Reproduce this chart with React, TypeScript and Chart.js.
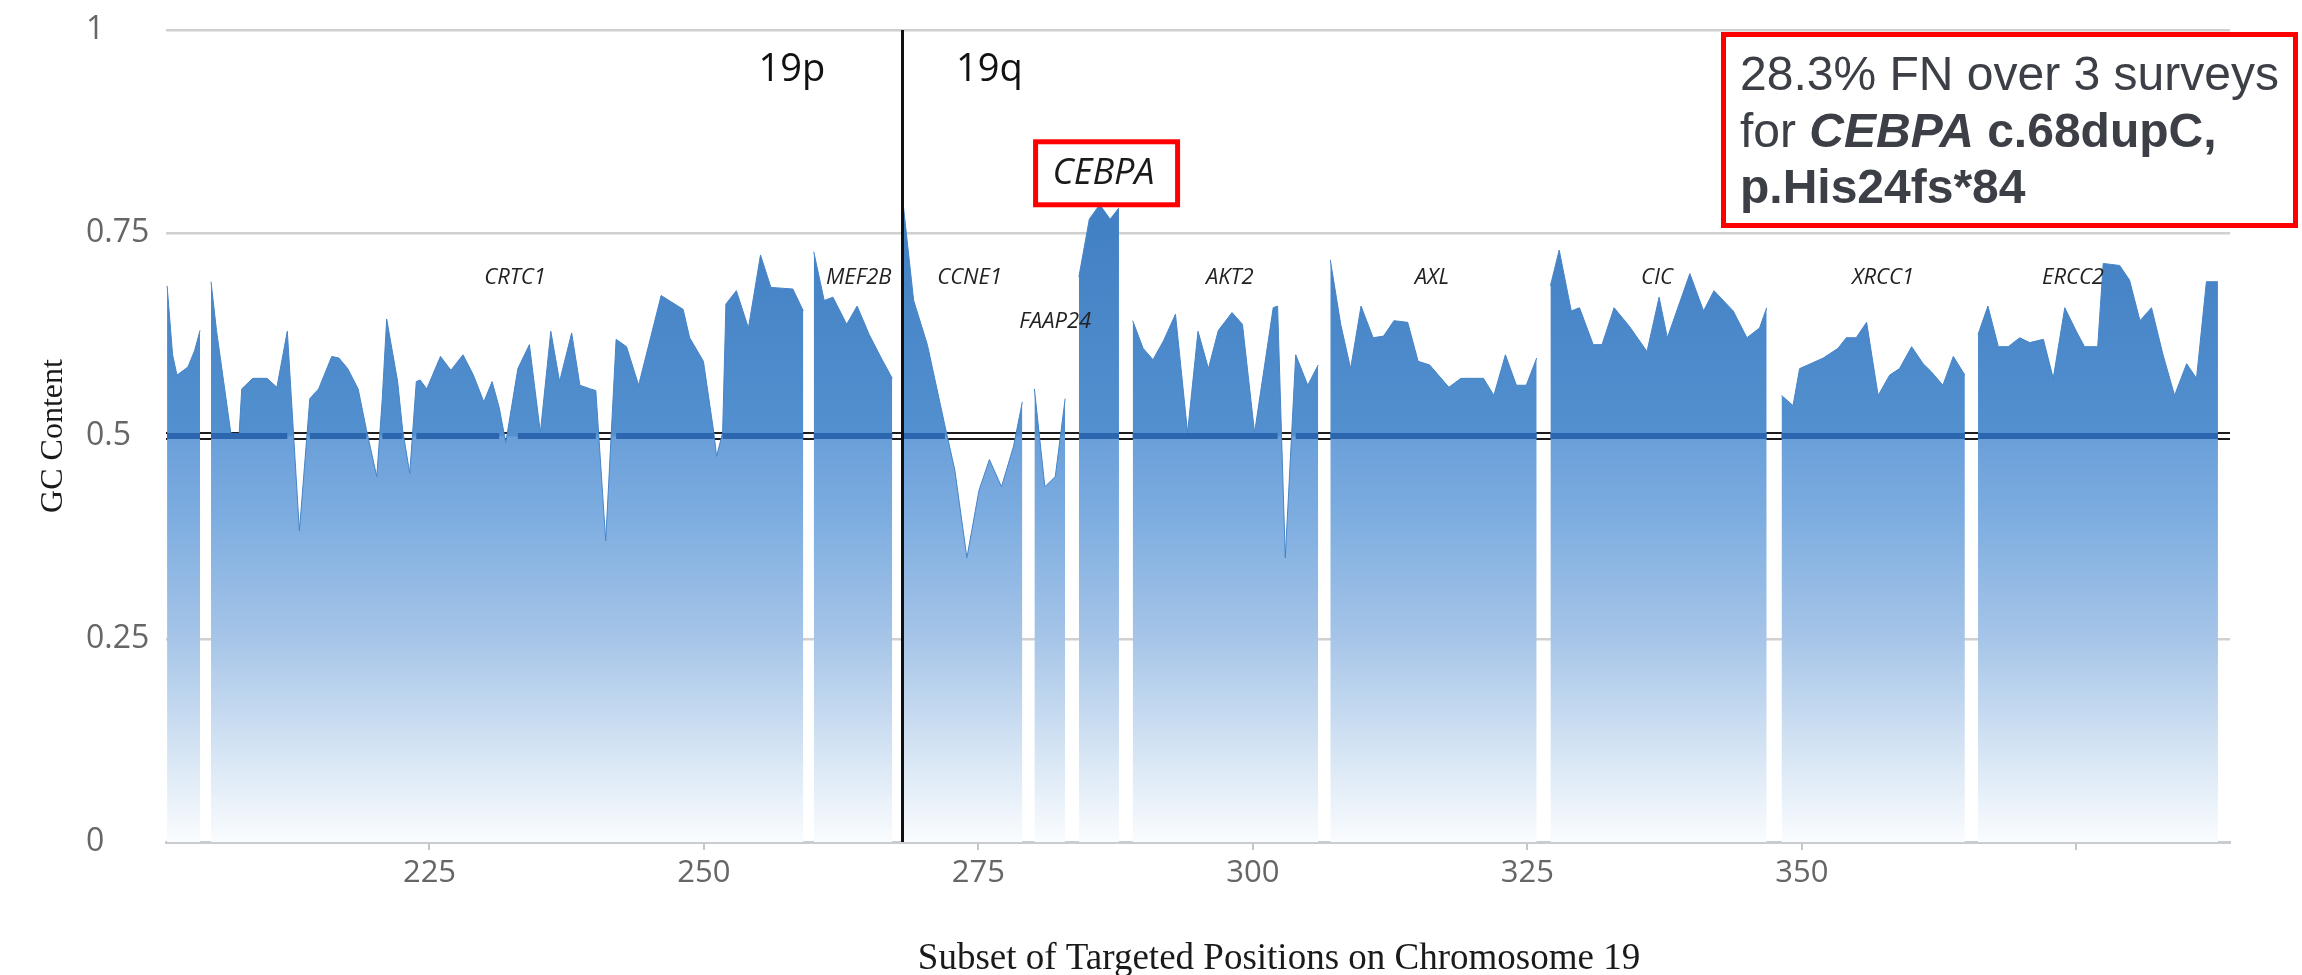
import React, { useEffect, useRef } from 'react';
import { Chart, registerables } from 'chart.js';

Chart.register(...registerables);

// ---- data ---------------------------------------------------------------
// Targeted positions (x) and GC content (y); null marks a break between targets.
const POSITIONS: number[] = [
  201.1, 201.6, 202.0, 203.0, 203.6, 204.1, 204.6,
  205.1, 205.6, 206.25, 206.9, 207.65, 207.9, 208.9, 210.2, 211.1, 212.05, 213.15, 214.1, 214.9,
  216.1, 216.75, 217.55, 218.5, 219.25, 220.2, 220.7, 221.1, 222.1, 222.55, 223.2, 223.8, 224.15,
  224.75, 226.0, 226.95, 228.05, 229.0, 229.95, 230.7, 231.35, 231.95, 233.05, 234.1, 235.1, 236.05,
  236.85, 237.95, 238.7, 239.65, 240.15, 241.05, 242.0, 242.95, 244.05, 246.1, 248.1, 248.7, 249.95,
  250.9, 251.15, 251.7, 252.0, 252.95, 254.05, 255.15, 256.1, 258.1, 259.05, 259.5,
  260.0, 260.95, 261.75, 263.0, 263.95, 265.05, 266.15, 267.15, 267.6,
  268.0, 269.1, 270.35, 271.95, 272.85, 273.95, 275.05, 276.0, 277.1, 278.2, 279.0, 279.5,
  280.1, 281.05, 282.0, 282.9, 283.6,
  284.15, 285.1, 286.05, 287.0, 287.8, 288.4,
  289.05, 290.0, 290.9, 291.85, 292.95, 294.05, 295.0, 295.95, 296.85, 298.1, 299.05, 300.15,
  301.85, 302.25, 302.95, 303.9, 305.0, 305.95, 306.5,
  307.05, 308.0, 308.9, 309.85, 310.95, 311.9, 312.85, 314.1, 315.05, 316.1, 317.85, 318.95,
  321.0, 321.95, 323.0, 324.0, 324.9, 325.85, 326.5,
  327.1, 327.9, 329.0, 329.75, 331.0, 331.8, 332.9, 334.3, 335.9, 337.0, 337.75, 339.8, 341.05,
  342.0, 343.75, 345.0, 346.15, 346.8, 347.4,
  348.15, 349.2, 349.8, 350.55, 351.95, 353.3, 354.05, 354.95, 355.9, 356.95, 358.0, 358.9,
  360.0, 361.05, 361.8, 362.85, 363.8, 364.85, 365.4,
  366.05, 366.95, 367.9, 368.8, 369.85, 370.75, 372.0, 372.9, 373.95, 375.0, 375.75, 376.95,
  377.45, 378.95, 379.85, 380.8, 381.85, 382.9, 383.95, 385.05, 385.95, 386.85, 387.9,
];

const GC_CONTENT: (number | null)[] = [
  0.685, 0.6, 0.575, 0.585, 0.605, 0.63, null,
  0.69, 0.63, 0.567, 0.504, 0.5, 0.558, 0.571, 0.571, 0.56, 0.629, 0.383, 0.546, 0.558,
  0.598, 0.596, 0.583, 0.558, 0.508, 0.45, 0.546, 0.644, 0.567, 0.508, 0.454, 0.567, 0.569,
  0.558, 0.598, 0.581, 0.6, 0.575, 0.542, 0.567, 0.535, 0.492, 0.583, 0.6125, 0.504, 0.629,
  0.567, 0.627, 0.5625, 0.558, 0.556, 0.371, 0.619, 0.61, 0.5625, 0.673, 0.656, 0.621, 0.592,
  0.504, 0.475, 0.504, 0.6625, 0.679, 0.633, 0.723, 0.683, 0.681, 0.654, null,
  0.727, 0.667, 0.671, 0.6375, 0.66, 0.625, 0.596, 0.571, null,
  0.804, 0.667, 0.6125, 0.5125, 0.458, 0.35, 0.433, 0.471, 0.4375, 0.4875, 0.542, null,
  0.558, 0.4375, 0.45, 0.546, null,
  0.696, 0.767, 0.785, 0.767, 0.781, null,
  0.642, 0.608, 0.594, 0.617, 0.65, 0.504, 0.629, 0.583, 0.63, 0.652, 0.6375, 0.504,
  0.658, 0.66, 0.35, 0.6, 0.5625, 0.5875, null,
  0.717, 0.6375, 0.583, 0.66, 0.621, 0.623, 0.642, 0.64, 0.592, 0.5875, 0.56, 0.571,
  0.571, 0.55, 0.6, 0.5625, 0.5625, 0.596, null,
  0.685, 0.729, 0.654, 0.658, 0.6125, 0.6125, 0.658, 0.635, 0.604, 0.671, 0.621, 0.7, 0.654,
  0.679, 0.654, 0.621, 0.633, 0.658, null,
  0.55, 0.5375, 0.583, 0.5875, 0.596, 0.608, 0.621, 0.621, 0.64, 0.55, 0.575, 0.583,
  0.61, 0.589, 0.579, 0.5625, 0.598, 0.575, null,
  0.625, 0.66, 0.61, 0.61, 0.621, 0.615, 0.619, 0.571, 0.658, 0.629, 0.61, 0.61,
  0.7125, 0.71, 0.692, 0.642, 0.658, 0.6, 0.55, 0.589, 0.571, 0.69, 0.69,
];

const X_MIN = 201;
const X_MAX = 389;
const X_TICKS = [225, 250, 275, 300, 325, 350, 375];
const X_TICK_LABELS = ['225', '250', '275', '300', '325', '350', ''];
const Y_TICKS = [0, 0.25, 0.5, 0.75, 1];
const Y_TICK_LABELS = ['0', '0.25', '0.5', '0.75', '1'];

const THRESHOLD = 0.5;
const CENTROMERE = 268;

const GENES = ['CRTC1', 'MEF2B', 'CCNE1', 'FAAP24', 'AKT2', 'AXL', 'CIC', 'XRCC1', 'ERCC2'];
const GENE_POS = [232.8, 264.1, 274.2, 282.0, 297.9, 316.3, 336.8, 357.4, 374.7];
const GENE_GC = [0.697, 0.697, 0.697, 0.6425, 0.697, 0.697, 0.697, 0.697, 0.697];

const ARMS = ['19p', '19q'];
const ARM_POS = [258.0, 276.0];
const ARM_GC = [0.937, 0.937];

const HIGHLIGHT_GENE = 'CEBPA';
const HIGHLIGHT_POS = 286.4;
const HIGHLIGHT_GC = 0.81;

const NOTE_LINES: { text: string; style: string }[][] = [
  [{ text: '28.3% FN over 3 surveys', style: '' }],
  [
    { text: 'for ', style: '' },
    { text: 'CEBPA', style: 'italic bold ' },
    { text: ' c.68dupC,', style: 'bold ' },
  ],
  [{ text: 'p.His24fs*84', style: 'bold ' }],
];

const X_TITLE = 'Subset of Targeted Positions on Chromosome 19';
const Y_TITLE = 'GC Content';

// ---- styles -------------------------------------------------------------
const W = 2302;
const H = 975;
const FILL_STOPS: [number, string][] = [
  [0, '#3a78c0'],
  [0.25, '#4381c5'],
  [0.499, '#5390cf'],
  [0.502, '#6a9fd9'],
  [0.6, '#7dade0'],
  [0.75, '#a6c5e8'],
  [0.9, '#d9e7f5'],
  [1, '#fafcfe'],
];
const TICK_FONT = '"Open Sans", "DejaVu Sans", sans-serif';
const SERIF = '"Liberation Serif", "Times New Roman", serif';
const SANS = '"Liberation Sans", Arial, sans-serif';

const areaFill = (ctx: any) => {
  const chart = ctx.chart;
  const y = chart.scales && chart.scales.y;
  if (!chart.chartArea || !y) return '#5a93d0';
  const g = chart.ctx.createLinearGradient(0, y.getPixelForValue(1), 0, y.getPixelForValue(0));
  FILL_STOPS.forEach(([f, c]) => g.addColorStop(f, c));
  return g;
};

const decorPlugin = {
  id: 'decor',
  beforeDatasetsDraw(chart: any) {
    const { ctx, chartArea, scales } = chart;
    const y = scales.y.getPixelForValue(THRESHOLD);
    ctx.save();
    ctx.strokeStyle = '#1c1c1c';
    ctx.lineWidth = 2;
    [-3, 3].forEach((d) => {
      ctx.beginPath();
      ctx.moveTo(chartArea.left, y + d);
      ctx.lineTo(chartArea.right, y + d);
      ctx.stroke();
    });
    ctx.restore();
  },
  afterDraw(chart: any) {
    const { ctx, scales, chartArea } = chart;
    const xs = scales.x;
    const ys = scales.y;
    ctx.save();

    // centromere divider
    const cx = Math.round(xs.getPixelForValue(CENTROMERE)) + 0.5;
    ctx.strokeStyle = '#111';
    ctx.lineWidth = 3;
    ctx.beginPath();
    ctx.moveTo(cx, ys.getPixelForValue(1));
    ctx.lineTo(cx, ys.getPixelForValue(0));
    ctx.stroke();

    // gene labels
    ctx.fillStyle = '#222';
    ctx.textAlign = 'center';
    ctx.textBaseline = 'alphabetic';
    ctx.font = `italic 22px ${TICK_FONT}`;
    GENES.forEach((g, i) => {
      ctx.fillText(g, xs.getPixelForValue(GENE_POS[i]), ys.getPixelForValue(GENE_GC[i]) + 8);
    });

    // arm labels
    ctx.fillStyle = '#111';
    ctx.font = `38px ${TICK_FONT}`;
    ARMS.forEach((a, i) => {
      ctx.fillText(a, xs.getPixelForValue(ARM_POS[i]), ys.getPixelForValue(ARM_GC[i]));
    });

    // highlighted gene
    const hx = xs.getPixelForValue(HIGHLIGHT_POS);
    const hy = ys.getPixelForValue(HIGHLIGHT_GC);
    ctx.font = `italic 36px ${TICK_FONT}`;
    ctx.fillStyle = '#1a1a1a';
    ctx.fillText(HIGHLIGHT_GENE, hx, hy);
    ctx.strokeStyle = '#ff0000';
    ctx.lineWidth = 5;
    ctx.strokeRect(hx - 68, hy - 42.5, 142, 63);

    // note box
    ctx.strokeRect(1723.5, 34.5, 572, 191);
    ctx.fillStyle = '#3c4046';
    ctx.textAlign = 'left';
    const baselines = [90, 147, 203];
    NOTE_LINES.forEach((parts, li) => {
      let x = 1740;
      parts.forEach((p) => {
        ctx.font = `${p.style}48px ${SANS}`;
        ctx.fillText(p.text, x, baselines[li]);
        x += ctx.measureText(p.text).width;
      });
    });

    // axis titles
    ctx.fillStyle = '#1a1a1a';
    ctx.font = `37px ${SERIF}`;
    ctx.textAlign = 'center';
    ctx.fillText(X_TITLE, 1279, 969);

    ctx.save();
    ctx.translate(54, (chartArea.top + chartArea.bottom) / 2);
    ctx.rotate(-Math.PI / 2);
    ctx.font = `32px ${SERIF}`;
    ctx.textBaseline = 'middle';
    ctx.fillText(Y_TITLE, 0, 0);
    ctx.restore();

    ctx.restore();
  },
};

export default function App() {
  const ref = useRef<HTMLCanvasElement | null>(null);

  useEffect(() => {
    document.body.style.margin = '0';
    document.body.style.overflow = 'hidden';
    const canvas = ref.current;
    if (!canvas) return;

    const chart = new Chart(canvas, {
      type: 'line',
      data: {
        datasets: [
          {
            label: 'GC content',
            data: POSITIONS.map((x, i) => ({ x, y: GC_CONTENT[i] })) as any,
            fill: 'origin',
            backgroundColor: areaFill as any,
            borderColor: '#4683c6',
            borderWidth: 1,
            pointRadius: 0,
            tension: 0,
            spanGaps: false,
            order: 2,
          },
          {
            label: 'threshold',
            data: POSITIONS.map((x, i) => ({ x, y: GC_CONTENT[i] === null ? null : THRESHOLD })) as any,
            fill: false,
            borderColor: '#2c66ae',
            borderWidth: 6,
            pointRadius: 0,
            spanGaps: false,
            order: 1,
            segment: {
              borderColor: (c: any) => {
                const a = GC_CONTENT[c.p0DataIndex];
                const b = GC_CONTENT[c.p1DataIndex];
                return a !== null && b !== null && a >= THRESHOLD && b >= THRESHOLD
                  ? '#2c66ae'
                  : 'rgba(0,0,0,0)';
              },
            },
          },
        ],
      },
      options: {
        responsive: false,
        animation: false,
        layout: { padding: { left: 86, right: 72, top: 30, bottom: 0 } },
        plugins: {
          legend: { display: false },
          tooltip: { enabled: false },
        },
        scales: {
          x: {
            type: 'linear',
            min: X_MIN,
            max: X_MAX,
            z: 1,
            afterBuildTicks: (s: any) => {
              s.ticks = X_TICKS.map((v) => ({ value: v }));
            },
            afterFit: (s: any) => {
              s.height = 133;
            },
            ticks: {
              autoSkip: false,
              maxRotation: 0,
              padding: 5,
              color: '#666',
              font: { family: TICK_FONT, size: 31 },
              callback: (v: any) => X_TICK_LABELS[X_TICKS.indexOf(Number(v))] ?? '',
            },
            grid: {
              drawOnChartArea: false,
              drawTicks: true,
              tickLength: 8,
              color: '#c3c7cb',
              lineWidth: 2,
            },
            border: { display: true, color: '#c9cdd1', width: 3 },
          },
          y: {
            type: 'linear',
            min: 0,
            max: 1,
            z: 1,
            afterBuildTicks: (s: any) => {
              s.ticks = Y_TICKS.map((v) => ({ value: v }));
            },
            afterFit: (s: any) => {
              s.width = 80;
            },
            ticks: {
              crossAlign: 'far',
              padding: 0,
              color: '#666',
              font: { family: TICK_FONT, size: 32 },
              callback: (v: any) => Y_TICK_LABELS[Y_TICKS.indexOf(Number(v))] ?? '',
            },
            grid: {
              drawTicks: false,
              lineWidth: 2.5,
              color: (c: any) =>
                c.tick && (c.tick.value === THRESHOLD || c.tick.value === 0)
                  ? 'rgba(0,0,0,0)'
                  : 'rgba(110,110,110,0.32)',
            },
            border: { display: false },
          },
        },
      },
      plugins: [decorPlugin],
    } as any);

    return () => chart.destroy();
  }, []);

  return (
    <div style={{ width: W, height: H, position: 'relative', background: '#fff' }}>
      <canvas ref={ref} width={W} height={H} style={{ width: W, height: H, display: 'block' }} />
    </div>
  );
}
